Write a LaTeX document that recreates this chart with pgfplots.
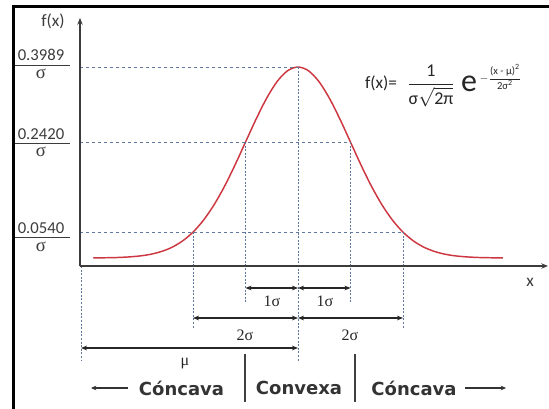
\documentclass[border=0pt]{standalone}
\usepackage{amsmath}
\usepackage{pgfplots}
\pgfplotsset{compat=1.18}
\usetikzlibrary{arrows.meta}
\usepackage{fontspec}
\setmainfont{Carlito}
\newfontfamily\serif{Liberation Serif}
\newfontfamily\boldsans{DejaVu Sans}

\definecolor{curvered}{RGB}{205,55,65}
\definecolor{guide}{RGB}{95,120,155}
\definecolor{axisgray}{RGB}{60,60,60}

\begin{document}
\begin{tikzpicture}
\begin{axis}[
  width=411.75pt,height=306.75pt,scale only axis,
  axis lines=none,clip=false,
  xmin=-5.67619,xmax=4.78095,
  ymin=-0.31537,ymax=0.53885,
]
% normal density, x in units of sigma from mu
\addplot[curvered,line width=1.1pt,smooth,tension=0.5] coordinates {
(-3.9,0.0002) (-3.6,0.0006) (-3.4,0.0012) (-3.2,0.0024) (-3.0,0.0044)
(-2.8,0.0079) (-2.6,0.0136) (-2.4,0.0224) (-2.2,0.0355) (-2.0,0.0540)
(-1.8,0.0790) (-1.6,0.1109) (-1.4,0.1497) (-1.2,0.1942) (-1.0,0.2420)
(-0.8,0.2897) (-0.6,0.3332) (-0.4,0.3683) (-0.2,0.3910) (0,0.3989)
(0.2,0.3910) (0.4,0.3683) (0.6,0.3332) (0.8,0.2897) (1.0,0.2420)
(1.2,0.1942) (1.4,0.1497) (1.6,0.1109) (1.8,0.0790) (2.0,0.0540)
(2.2,0.0355) (2.4,0.0224) (2.6,0.0136) (2.8,0.0079) (3.0,0.0044)
(3.2,0.0024) (3.4,0.0012) (3.6,0.0006) (3.9,0.0002)};
% guide lines to the curve
\draw[guide,line width=0.6pt,dash pattern=on 2.5pt off 2pt] (axis cs:-4.152,0.3989) -- (axis cs:0,0.3989);
\draw[guide,line width=0.6pt,dash pattern=on 2.5pt off 2pt] (axis cs:-4.152,0.2420) -- (axis cs:1,0.2420);
\draw[guide,line width=0.6pt,dash pattern=on 2.5pt off 2pt] (axis cs:-4.152,0.0540) -- (axis cs:2,0.0540);
\coordinate (TL) at (rel axis cs:0,1);
\coordinate (BR) at (rel axis cs:1,0);
\end{axis}

% everything else in picture pixels (1px = 0.75pt), origin top left
\begin{scope}[shift={(TL)},x=0.75pt,y=-0.75pt]
  % frame
  \draw[black,line width=2.4pt] (12,6.5) -- (549,6.5);
  \draw[black,line width=2.4pt] (13.5,5) -- (13.5,409);
  % vertical guides
  \begin{scope}[guide,line width=0.6pt,dash pattern=on 1.5pt off 1.2pt]
    \draw (81,266) -- (81,360);
    \draw (193,232.1) -- (193,329);
    \draw (245.5,142.1) -- (245.5,302);
    \draw (298,67) -- (298,362);
    \draw (350.5,142.1) -- (350.5,302);
    \draw (403,232.1) -- (403,329);
  \end{scope}
  % axes
  \draw[axisgray,line width=1.1pt,-{Stealth[length=5pt,width=4pt]}] (80,266.5) -- (80,18);
  \draw[axisgray,line width=1.1pt,-{Stealth[length=5pt,width=4pt]}] (79.5,266) -- (548,266);
  \node[font=\fontsize{13}{13}\selectfont,text=axisgray] at (53,21) {f(x)};
  \node[font=\fontsize{13}{13}\selectfont,text=axisgray] at (530,282) {x};
  % y labels
  \begin{scope}[text=axisgray,font=\fontsize{12.5}{12.5}\selectfont]
    \node at (41,55) {0.3989};
    \draw[axisgray,line width=0.7pt] (15,65) -- (70,65);
    \node[font=\serif\fontsize{14}{14}\selectfont] at (41,74) {σ};
    \node at (41,134) {0.2420};
    \draw[axisgray,line width=0.7pt] (15,143) -- (70,143);
    \node[font=\serif\fontsize{14}{14}\selectfont] at (41,152) {σ};
    \node at (41,228) {0.0540};
    \draw[axisgray,line width=0.7pt] (15,237) -- (70,237);
    \node[font=\serif\fontsize{14}{14}\selectfont] at (41,247) {σ};
  \end{scope}
  % formula
  \begin{scope}[text=black!85,inner sep=0.3pt]
    \node[font=\fontsize{13}{13}\selectfont] at (381,83) {f(x)=};
    \node[font=\fontsize{13.5}{13.5}\selectfont] at (431,86)
      {$\dfrac{\text{1}}{\text{σ}\sqrt{\text{2π}}}$};
    \node[font=\fontsize{24}{24}\selectfont] at (469,84) {e};
    \node[font=\fontsize{8}{8}\selectfont,anchor=west] at (479,77)
      {$-\dfrac{\text{(x - μ)}^{\text{2}}}{\text{2σ}^{\text{2}}}$};
  \end{scope}
  % sigma arrows
  \begin{scope}[black!85,line width=0.8pt,{Stealth[length=4.5pt,width=3.5pt]}-{Stealth[length=4.5pt,width=3.5pt]}]
    \draw (245.5,288) -- (298,288);
    \draw (298,288) -- (350.5,288);
    \draw (193,318) -- (298,318);
    \draw (298,318) -- (403,318);
    \draw (81,348) -- (298,348);
  \end{scope}
  \begin{scope}[text=black!85,font=\serif\fontsize{12}{12}\selectfont]
    \node at (272,301) {1σ};
    \node at (325,301) {1σ};
    \node at (245,335) {2σ};
    \node at (350,335) {2σ};
    \node at (185,364) {μ};
  \end{scope}
  % concavity row
  \draw[black!75,line width=1pt] (245,354) -- (245,402);
  \draw[black!75,line width=1pt] (355,354) -- (355,402);
  \draw[black!80,line width=1pt,{Stealth[length=4pt,width=3.5pt]}-] (91,388) -- (128,388);
  \draw[black!80,line width=1pt,-{Stealth[length=4pt,width=3.5pt]}] (465,388) -- (506,388);
  \begin{scope}[text=black!80,font=\boldsans\bfseries\fontsize{13.5}{13.5}\selectfont]
    \node at (181.5,388) {Cóncava};
    \node at (299,388) {Convexa};
    \node at (414,388) {Cóncava};
  \end{scope}
\end{scope}

\pgfresetboundingbox
\useasboundingbox (TL) rectangle (BR);
\end{tikzpicture}
\end{document}
